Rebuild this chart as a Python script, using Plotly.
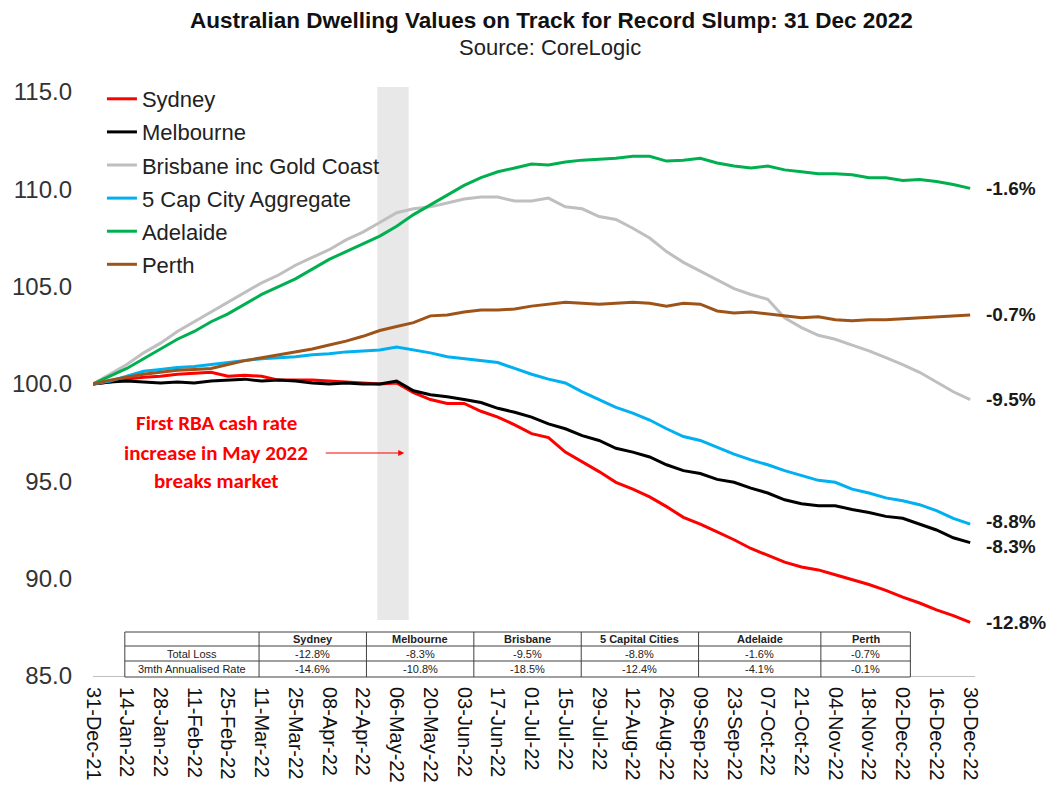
import plotly.graph_objects as go
import pandas as pd

# ---------------- data ----------------
dates = pd.date_range("2021-12-31", periods=53, freq="7D")

sydney = [100.0, 100.1, 100.25, 100.35, 100.4, 100.5, 100.55, 100.6, 100.4, 100.45,
          100.4, 100.2, 100.2, 100.2, 100.15, 100.1, 100.05, 100.0, 100.05, 99.55,
          99.2, 99.0, 99.0, 98.6, 98.3, 97.9, 97.45, 97.25, 96.5, 96.0,
          95.5, 94.95, 94.6, 94.2, 93.7, 93.15, 92.8, 92.4, 92.0, 91.55,
          91.2, 90.85, 90.6, 90.45, 90.2, 89.95, 89.7, 89.4, 89.05, 88.75,
          88.4, 88.1, 87.75]
melbourne = [100.0, 100.1, 100.15, 100.1, 100.05, 100.1, 100.05, 100.15, 100.2, 100.25,
             100.15, 100.2, 100.15, 100.05, 100.0, 100.05, 100.0, 100.0, 100.15, 99.65,
             99.45, 99.35, 99.2, 99.05, 98.75, 98.55, 98.3, 97.95, 97.7, 97.35,
             97.1, 96.7, 96.5, 96.25, 95.85, 95.55, 95.4, 95.1, 94.95, 94.65,
             94.4, 94.05, 93.85, 93.75, 93.75, 93.55, 93.4, 93.2, 93.1, 92.8,
             92.5, 92.1, 91.85]
brisbane = [100.0, 100.5, 101.0, 101.6, 102.1, 102.7, 103.2, 103.7, 104.2, 104.7,
            105.2, 105.6, 106.1, 106.5, 106.9, 107.4, 107.8, 108.3, 108.8, 109.0,
            109.1, 109.3, 109.5, 109.6, 109.6, 109.4, 109.4, 109.55, 109.1, 109.0,
            108.6, 108.45, 108.0, 107.5, 106.8, 106.25, 105.8, 105.35, 104.9, 104.6,
            104.35, 103.4, 102.9, 102.5, 102.3, 102.0, 101.7, 101.35, 101.0, 100.6,
            100.1, 99.6, 99.2]
cap5 = [100.0, 100.15, 100.4, 100.65, 100.75, 100.85, 100.9, 101.0, 101.1, 101.2,
        101.3, 101.35, 101.4, 101.5, 101.55, 101.65, 101.7, 101.75, 101.9, 101.75,
        101.6, 101.4, 101.3, 101.2, 101.1, 100.8, 100.5, 100.25, 100.05, 99.6,
        99.2, 98.8, 98.5, 98.15, 97.7, 97.3, 97.1, 96.75, 96.4, 96.1,
        95.85, 95.55, 95.3, 95.05, 94.95, 94.6, 94.4, 94.15, 94.0, 93.8,
        93.5, 93.1, 92.8]
adelaide = [100.0, 100.4, 100.8, 101.3, 101.8, 102.3, 102.7, 103.2, 103.6, 104.1,
            104.6, 105.0, 105.4, 105.9, 106.4, 106.8, 107.2, 107.6, 108.1, 108.7,
            109.2, 109.7, 110.2, 110.6, 110.9, 111.1, 111.3, 111.25, 111.4, 111.5,
            111.55, 111.6, 111.7, 111.7, 111.45, 111.5, 111.6, 111.35, 111.2, 111.1,
            111.2, 111.0, 110.9, 110.8, 110.8, 110.75, 110.6, 110.6, 110.45, 110.5,
            110.4, 110.25, 110.05]
perth = [100.0, 100.2, 100.35, 100.5, 100.6, 100.7, 100.75, 100.8, 101.0, 101.2,
         101.35, 101.5, 101.65, 101.8, 102.0, 102.2, 102.45, 102.75, 102.95, 103.15,
         103.5, 103.55, 103.7, 103.8, 103.8, 103.85, 104.0, 104.1, 104.2, 104.15,
         104.1, 104.15, 104.2, 104.15, 104.0, 104.15, 104.1, 103.75, 103.65, 103.7,
         103.6, 103.5, 103.4, 103.45, 103.3, 103.25, 103.3, 103.3, 103.35, 103.4,
         103.45, 103.5, 103.55]

series_names = ["Sydney", "Melbourne", "Brisbane inc Gold Coast",
                "5 Cap City Aggregate", "Adelaide", "Perth"]
series_values = [sydney, melbourne, brisbane, cap5, adelaide, perth]
series_colors = ["#FF0000", "#000000", "#BFBFBF", "#00B0F0", "#00B050", "#9E5419"]
end_labels = ["-12.8%", "-8.3%", "-9.5%", "-8.8%", "-1.6%", "-0.7%"]
end_label_shift = [0, -4, 0, 3, 0, 0]

tick_dates = ["2021-12-31", "2022-01-14", "2022-01-28", "2022-02-11", "2022-02-25",
              "2022-03-11", "2022-03-25", "2022-04-08", "2022-04-22", "2022-05-06",
              "2022-05-20", "2022-06-03", "2022-06-17", "2022-07-01", "2022-07-15",
              "2022-07-29", "2022-08-12", "2022-08-26", "2022-09-09", "2022-09-23",
              "2022-10-07", "2022-10-21", "2022-11-04", "2022-11-18", "2022-12-02",
              "2022-12-16", "2022-12-30"]
tick_labels = ["31-Dec-21", "14-Jan-22", "28-Jan-22", "11-Feb-22", "25-Feb-22",
               "11-Mar-22", "25-Mar-22", "08-Apr-22", "22-Apr-22", "06-May-22",
               "20-May-22", "03-Jun-22", "17-Jun-22", "01-Jul-22", "15-Jul-22",
               "29-Jul-22", "12-Aug-22", "26-Aug-22", "09-Sep-22", "23-Sep-22",
               "07-Oct-22", "21-Oct-22", "04-Nov-22", "18-Nov-22", "02-Dec-22",
               "16-Dec-22", "30-Dec-22"]

table_header = ["Sydney", "Melbourne", "Brisbane", "5 Capital Cities", "Adelaide", "Perth"]
table_rows = ["Total Loss", "3mth Annualised Rate"]
total_loss = ["-12.8%", "-8.3%", "-9.5%", "-8.8%", "-1.6%", "-0.7%"]
annualised = ["-14.6%", "-10.8%", "-18.5%", "-12.4%", "-4.1%", "-0.1%"]

rba_band = ["2022-04-28", "2022-05-11"]
note_lines = ["First RBA cash rate", "increase in May 2022", "breaks market"]

# ---------------- layout helpers ----------------
W, H = 1051, 798
L, R, T, B = 88, 975, 92, 676
FONT = "Liberation Sans, Arial, sans-serif"
NARROW = "Liberation Sans Narrow, Arial Narrow, Liberation Sans, sans-serif"


def px(p):
    return (p - L) / (R - L)


def py(p):
    return (B - p) / (B - T)


fig = go.Figure()
for name, vals, col in zip(series_names, series_values, series_colors):
    fig.add_trace(go.Scatter(x=dates, y=vals, name=name, mode="lines",
                             line=dict(color=col, width=3),
                             legendgroup=name))

shapes = []
annotations = []

# grey band
shapes.append(dict(type="rect", xref="x", yref="paper", x0=rba_band[0], x1=rba_band[1],
                   y0=py(620), y1=py(87), fillcolor="#E8E8E8", line=dict(width=0),
                   layer="below"))

# table
col_edges = [120, 255, 363, 471, 579, 697, 820, 910]
row_edges = [632, 646, 661, 677]
shapes.append(dict(type="rect", xref="paper", yref="paper",
                   x0=px(col_edges[0]), x1=px(col_edges[-1]),
                   y0=py(row_edges[-1]), y1=py(row_edges[0]),
                   fillcolor="white", line=dict(color="#404040", width=1), layer="above"))
for c in col_edges[1:-1]:
    shapes.append(dict(type="line", xref="paper", yref="paper", x0=px(c), x1=px(c),
                       y0=py(row_edges[-1]), y1=py(row_edges[0]),
                       line=dict(color="#404040", width=1), layer="above"))
for r in row_edges[1:-1]:
    shapes.append(dict(type="line", xref="paper", yref="paper", x0=px(col_edges[0]),
                       x1=px(col_edges[-1]), y0=py(r), y1=py(r),
                       line=dict(color="#404040", width=1), layer="above"))


def cell(text, ci, ri, bold=False):
    cx = (col_edges[ci] + col_edges[ci + 1]) / 2
    cy = (row_edges[ri] + row_edges[ri + 1]) / 2
    annotations.append(dict(x=px(cx), y=py(cy), xref="paper", yref="paper",
                            text=("<b>%s</b>" % text) if bold else text,
                            showarrow=False, xanchor="center", yanchor="middle",
                            font=dict(family=NARROW, size=11, color="#222")))


for i, h in enumerate(table_header):
    cell(h, i + 1, 0, bold=True)
cell(table_rows[0], 0, 1)
cell(table_rows[1], 0, 2)
for i, v in enumerate(total_loss):
    cell(v, i + 1, 1)
for i, v in enumerate(annualised):
    cell(v, i + 1, 2)

# end labels
for vals, lab, sh in zip(series_values, end_labels, end_label_shift):
    annotations.append(dict(x=px(984), y=vals[-1], xref="paper", yref="y",
                            text="<b>%s</b>" % lab, yshift=sh,
                            showarrow=False, xanchor="left", yanchor="middle",
                            font=dict(family=FONT, size=19, color="#1a1a1a")))

# note text
for line, yy in zip(note_lines, [423, 453, 481]):
    annotations.append(dict(x=px(212), y=py(yy), xref="paper", yref="paper",
                            text="<b>%s</b>" % line, showarrow=False,
                            xanchor="center", yanchor="middle",
                            font=dict(family="Carlito, Calibri, Lato, sans-serif", size=21,
                                      color="#FF0000")))
# arrow
annotations.append(dict(x=px(401), y=py(453), xref="paper", yref="paper", text="",
                        showarrow=True, ax=-80, ay=0, arrowhead=2, arrowsize=1.2,
                        arrowwidth=1, arrowcolor="#FF0000"))

# title
annotations.append(dict(x=px(549), y=py(21), xref="paper", yref="paper",
                        text="<b>Australian Dwelling Values on Track for Record Slump: 31 Dec 2022</b>",
                        showarrow=False, xanchor="center", yanchor="middle",
                        font=dict(family=FONT, size=22.5, color="#111")))
annotations.append(dict(x=px(548), y=py(48), xref="paper", yref="paper",
                        text="Source: CoreLogic", showarrow=False,
                        xanchor="center", yanchor="middle",
                        font=dict(family=FONT, size=22, color="#222")))

fig.update_layout(
    width=W, height=H,
    margin=dict(l=L, r=W - R, t=T, b=H - B, pad=0),
    plot_bgcolor="white", paper_bgcolor="white",
    font=dict(family=FONT, color="#222"),
    showlegend=True,
    legend=dict(x=px(97), y=py(78), xanchor="left", yanchor="top",
                bgcolor="rgba(0,0,0,0)", font=dict(family=FONT, size=22, color="#222"),
                tracegroupgap=1.5, itemwidth=30),
    xaxis=dict(type="date", range=["2021-12-31", "2023-01-01"],
               tickmode="array", tickvals=tick_dates, ticktext=tick_labels,
               tickangle=90, tickfont=dict(family=FONT, size=20, color="#111"),
               showgrid=False, zeroline=False, showline=True, linecolor="#BFBFBF",
               linewidth=1, ticks="", ticklabelstandoff=6),
    yaxis=dict(range=[85, 115], tickmode="array", tickvals=[85, 90, 95, 100, 105, 110, 115],
               tickformat=".1f", tickfont=dict(family=FONT, size=24, color="#333"),
               showgrid=False, zeroline=False, showline=False, ticks="",
               ticklabelstandoff=20),
    shapes=shapes,
    annotations=annotations,
)

fig.write_html("out.html", config={"displayModeBar": False},
               post_script="document.body.style.margin='0px';document.body.style.padding='0px';")
